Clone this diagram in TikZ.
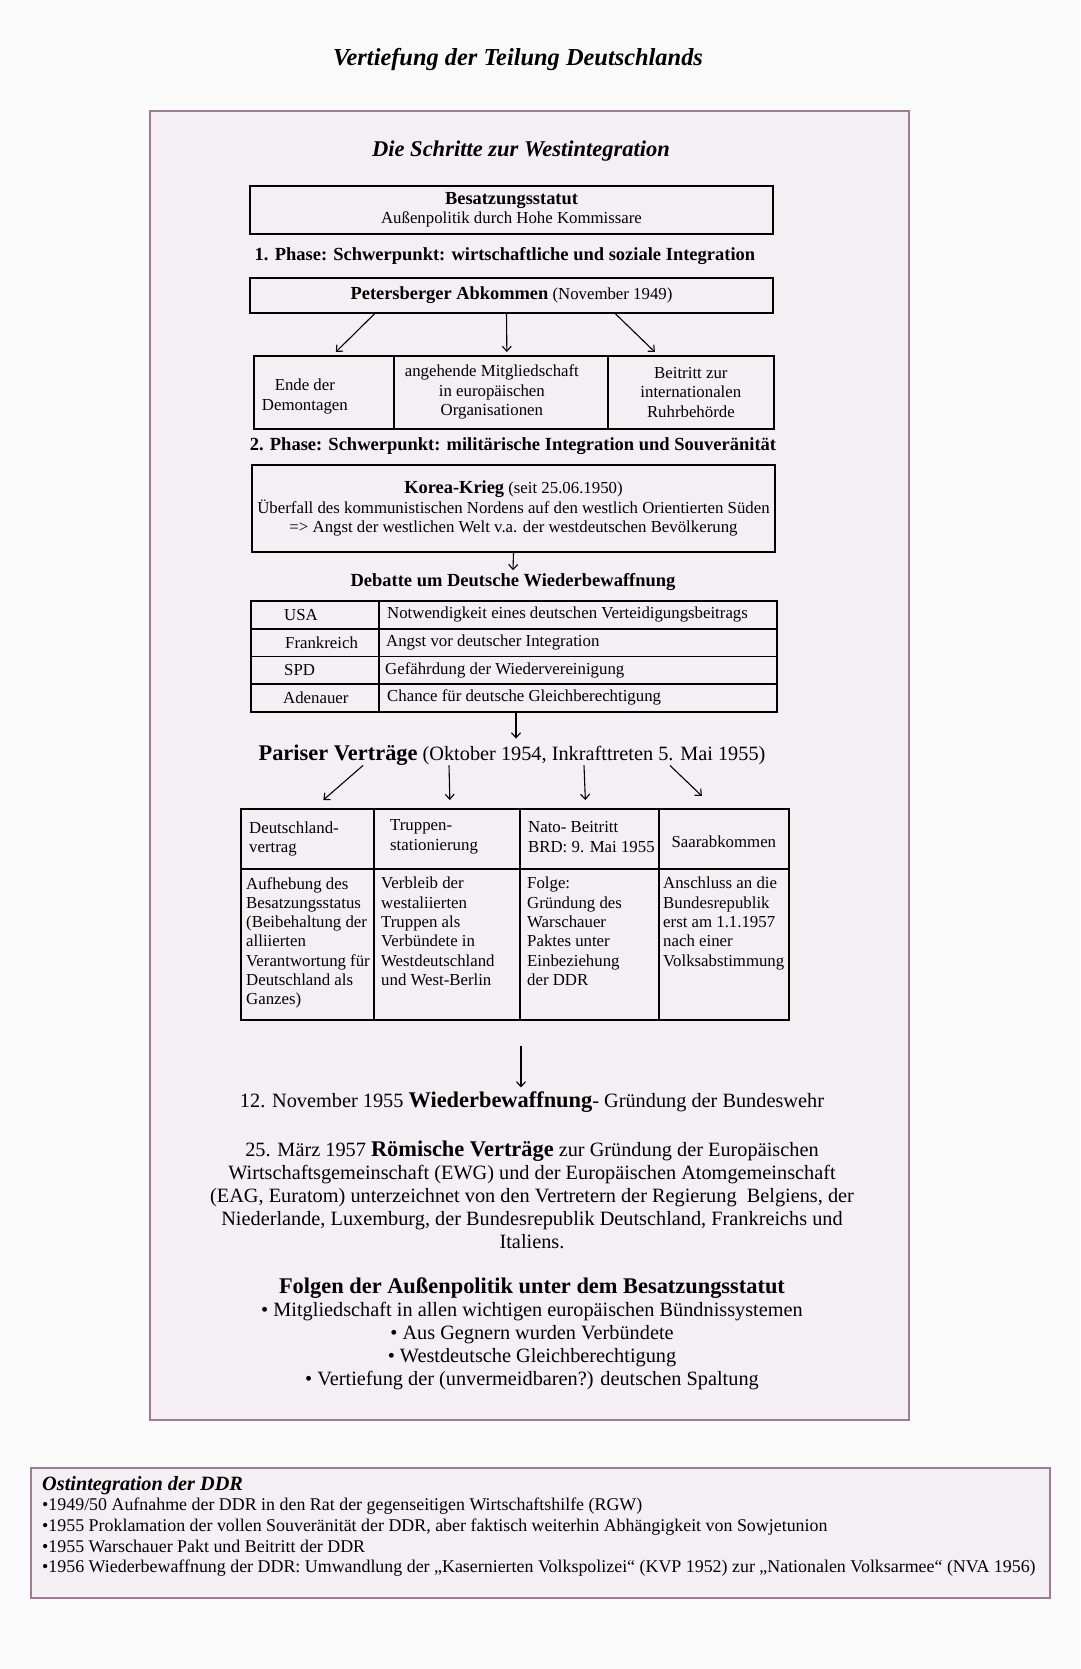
\documentclass[tikz,border=0pt]{standalone}
\usepackage{fontspec}
\setmainfont{Liberation Serif}
\usetikzlibrary{arrows.meta,positioning}

\definecolor{frame}{HTML}{9E7C97}
\definecolor{paper}{HTML}{F3EFF2}
\definecolor{page}{HTML}{FBFAFB}
\newcommand{\boldsmall}[1]{{\bfseries\fontsize{18.4}{19.5}\selectfont #1}}
\newcommand{\boldbig}[1]{{\bfseries\fontsize{22.4}{23}\selectfont #1}}

\begin{document}
\begin{tikzpicture}[x=1pt,y=-1pt,
 frm/.style={draw=frame,fill=paper,line width=2pt,anchor=north west,inner sep=0pt},
 box/.style={draw,line width=1.7pt,inner sep=0pt},
 cell/.style={box,anchor=north west},
 txt/.style={font=\fontsize{16.8}{19.5}\selectfont,inner sep=0pt},
 head/.style={font=\bfseries\fontsize{18.5}{19.5}\selectfont,inner sep=0pt},
 big/.style={font=\fontsize{20.3}{23}\selectfont,inner sep=0pt},
 arr/.style={-{Straight Barb[length=5pt,width=9pt]},line width=1.1pt}]

\fill[page](0,0)rectangle(1080,1669);
\useasboundingbox(0,0)rectangle(1080,1669);

\node[font=\bfseries\itshape\fontsize{24.4}{28}\selectfont](title)at(518,60){Vertiefung der Teilung Deutschlands};

\node[frm,minimum width=759,minimum height=1309](west)at(149,110){};
\node[font=\bfseries\itshape\fontsize{22.5}{26}\selectfont](schritte)at(521,151){Die Schritte zur Westintegration};

\node[box,txt,align=center,minimum width=523,minimum height=48](statut)at(511.5,210){\boldsmall{Besatzungsstatut}\\Außenpolitik durch Hohe Kommissare};
\node[head](phase1)at(505,256){1. Phase: Schwerpunkt: wirtschaftliche und soziale Integration};
\node[box,txt,minimum width=523,minimum height=35](peters)at(511.5,295.5){\boldsmall{Petersberger Abkommen} (November 1949)};

\node[cell,minimum width=140,minimum height=73](ende)at(253,355){};
\node[cell,minimum width=214,minimum height=73](mitglied)at(393,355){};
\node[cell,minimum width=166,minimum height=73](ruhr)at(607,355){};
\node[txt,align=center](ende-t)at([xshift=-19,yshift=-4]ende.center){Ende der\\Demontagen};
\node[txt,align=center](mitglied-t)at([xshift=-9]mitglied.center){angehende Mitgliedschaft\\in europäischen\\Organisationen};
\node[txt,align=center](ruhr-t)at(ruhr.center){Beitritt zur\\internationalen\\Ruhrbehörde};

\draw[arr]([xshift=-137]peters.south)--([xshift=12,yshift=3]ende.north);
\draw[arr]([xshift=-5]peters.south)--([xshift=6,yshift=3]mitglied.north);
\draw[arr]([xshift=104]peters.south)--([xshift=-36,yshift=3]ruhr.north);

\node[head](phase2)at(513,446){2. Phase: Schwerpunkt: militärische Integration und Souveränität};
\node[box,txt,align=center,minimum width=523,minimum height=87](korea)at(513.5,508.5){\boldsmall{Korea-Krieg} (seit 25.06.1950)\\Überfall des kommunistischen Nordens auf den westlich Orientierten Süden\\=> Angst der westlichen Welt v.a. der westdeutschen Bevölkerung};

\node[head](debatte)at(513,582){Debatte um Deutsche Wiederbewaffnung};
\draw[arr](korea.south)--([yshift=3]debatte.north);

\node[cell,minimum width=128,minimum height=28](usa)at(250,600){};
\node[cell,minimum width=398,minimum height=28](usa-r)at(378,600){};
\node[cell,minimum width=128,minimum height=27.5](fr)at(250,628){};
\node[cell,minimum width=398,minimum height=27.5](fr-r)at(378,628){};
\node[cell,minimum width=128,minimum height=27.5](spd)at(250,655.5){};
\node[cell,minimum width=398,minimum height=27.5](spd-r)at(378,655.5){};
\node[cell,minimum width=128,minimum height=28](ade)at(250,683){};
\node[cell,minimum width=398,minimum height=28](ade-r)at(378,683){};
\node[txt,anchor=west](usa-t)at([xshift=34]usa.west){USA};
\node[txt,anchor=west](fr-t)at([xshift=35]fr.west){Frankreich};
\node[txt,anchor=west](spd-t)at([xshift=34]spd.west){SPD};
\node[txt,anchor=west](ade-t)at([xshift=33]ade.west){Adenauer};
\node[txt,anchor=west](usa-rt)at([xshift=9]usa-r.west){Notwendigkeit eines deutschen Verteidigungsbeitrags};
\node[txt,anchor=west](fr-rt)at([xshift=8]fr-r.west){Angst vor deutscher Integration};
\node[txt,anchor=west](spd-rt)at([xshift=7]spd-r.west){Gefährdung der Wiedervereinigung};
\node[txt,anchor=west](ade-rt)at([xshift=9]ade-r.west){Chance für deutsche Gleichberechtigung};

\node[big](pariser)at(512,755){\boldbig{Pariser Verträge} (Oktober 1954, Inkrafttreten 5. Mai 1955)};
\draw[arr]([xshift=4]pariser.north|-ade-r.south)--([xshift=4,yshift=6]pariser.north);

\node[cell,minimum width=133,minimum height=60](dv)at(240,808){};
\node[cell,minimum width=146,minimum height=60](ts)at(373,808){};
\node[cell,minimum width=139,minimum height=60](nato)at(519,808){};
\node[cell,minimum width=130,minimum height=60](saar)at(658,808){};
\node[cell,minimum width=133,minimum height=151](dv-b)at(240,868){};
\node[cell,minimum width=146,minimum height=151](ts-b)at(373,868){};
\node[cell,minimum width=139,minimum height=151](nato-b)at(519,868){};
\node[cell,minimum width=130,minimum height=151](saar-b)at(658,868){};

\node[txt,align=left,anchor=west](dv-t)at([xshift=9]dv.west){Deutschland-\\vertrag};
\node[txt,align=left,anchor=west](ts-t)at([xshift=17,yshift=2]ts.west){Truppen-\\stationierung};
\node[txt,align=left,anchor=west](nato-t)at([xshift=9,yshift=2]nato.west){Nato- Beitritt\\BRD: 9. Mai 1955};
\node[txt](saar-t)at([yshift=-3]saar.center){Saarabkommen};

\node[txt,align=left,anchor=north west,font=\fontsize{16.8}{19.3}\selectfont](dv-bt)at([xshift=6,yshift=-9]dv-b.north west){Aufhebung des\\Besatzungsstatus\\(Beibehaltung der\\alliierten\\Verantwortung für\\Deutschland als\\Ganzes)};
\node[txt,align=left,anchor=north west,font=\fontsize{16.8}{19.3}\selectfont](ts-bt)at([xshift=8,yshift=-9]ts-b.north west){Verbleib der\\westaliierten\\Truppen als\\Verbündete in\\Westdeutschland\\und West-Berlin};
\node[txt,align=left,anchor=north west,font=\fontsize{16.8}{19.3}\selectfont](nato-bt)at([xshift=8,yshift=-9]nato-b.north west){Folge:\\Gründung des\\Warschauer\\Paktes unter\\Einbeziehung\\der DDR};
\node[txt,align=left,anchor=north west,font=\fontsize{16.8}{19.3}\selectfont](saar-bt)at([xshift=5,yshift=-9]saar-b.north west){Anschluss an die\\Bundesrepublik\\erst am 1.1.1957\\nach einer\\Volksabstimmung};

\draw[arr]([xshift=-149]pariser.south)--([xshift=16,yshift=8]dv.north);
\draw[arr]([xshift=-63]pariser.south)--([xshift=3,yshift=8]ts.north);
\draw[arr]([xshift=72]pariser.south)--([xshift=-4,yshift=8]nato.north);
\draw[arr]([xshift=158]pariser.south)--([xshift=-22,yshift=12]saar.north);

\node[big](wehr)at(532,1102){12. November 1955 \boldbig{Wiederbewaffnung}- Gründung der Bundeswehr};
\coordinate(down)at([xshift=2,yshift=-25]nato-b.south west);
\draw[arr](down)--([yshift=4]down|-wehr.north);

\node[big,align=center](rom)at(532,1195){25. März 1957 \boldbig{Römische Verträge} zur Gründung der Europäischen\\Wirtschaftsgemeinschaft (EWG) und der Europäischen Atomgemeinschaft\\(EAG, Euratom) unterzeichnet von den Vertretern der Regierung~ Belgiens, der\\Niederlande, Luxemburg, der Bundesrepublik Deutschland, Frankreichs und\\Italiens.};

\node[big,align=center](folgen)at(532,1334){\boldbig{Folgen der Außenpolitik unter dem Besatzungsstatut}\\• Mitgliedschaft in allen wichtigen europäischen Bündnissystemen\\• Aus Gegnern wurden Verbündete\\• Westdeutsche Gleichberechtigung\\• Vertiefung der (unvermeidbaren?) deutschen Spaltung};

\node[frm,minimum width=1019,minimum height=130](ost)at(30,1467){};
\node[txt,align=left,anchor=north west,font=\fontsize{17.9}{20.6}\selectfont](ost-t)at([xshift=12,yshift=-9]ost.north west){{\bfseries\itshape\fontsize{20.3}{20.6}\selectfont Ostintegration der DDR}\\•1949/50 Aufnahme der DDR in den Rat der gegenseitigen Wirtschaftshilfe (RGW)\\•1955 Proklamation der vollen Souveränität der DDR, aber faktisch weiterhin Abhängigkeit von Sowjetunion\\•1955 Warschauer Pakt und Beitritt der DDR\\•1956 Wiederbewaffnung der DDR: Umwandlung der „Kasernierten Volkspolizei“ (KVP 1952) zur „Nationalen Volksarmee“ (NVA 1956)};

\end{tikzpicture}
\end{document}
